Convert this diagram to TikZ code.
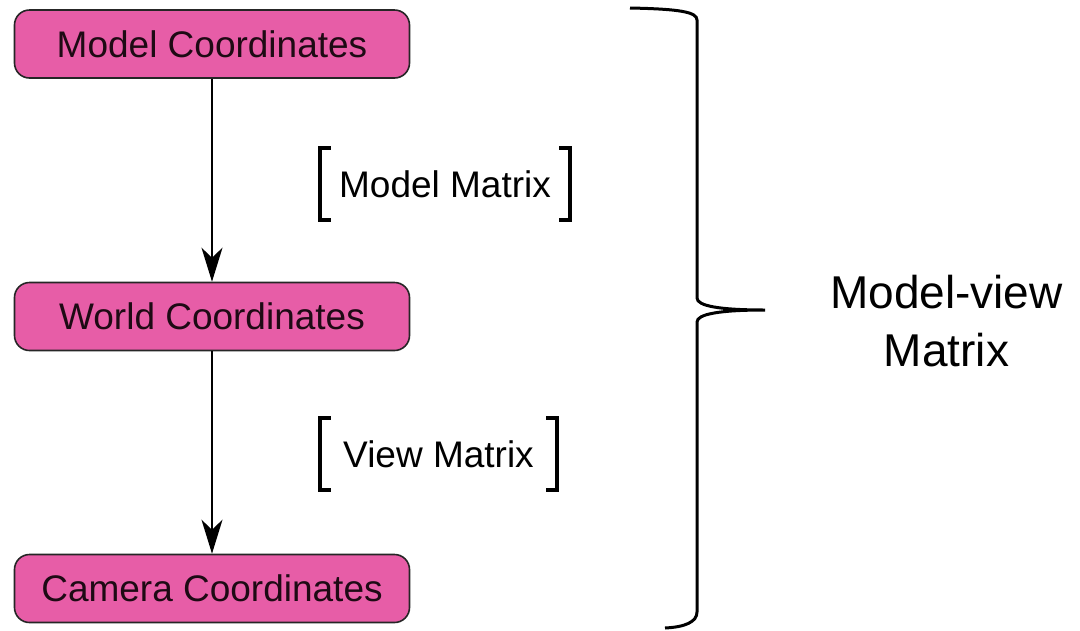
\documentclass[tikz,border=0pt]{standalone}
\usepackage{fontspec}
\setmainfont{Liberation Sans}
\usetikzlibrary{arrows.meta}
\definecolor{boxpink}{HTML}{E75DA7}
\definecolor{boxtext}{HTML}{1E0A14}
\tikzset{
  coordbox/.style={draw=black!85, line width=1.6pt, fill=boxpink, rounded corners=15pt,
    minimum width=395pt, minimum height=68pt, inner sep=0pt, text=boxtext,
    font=\fontsize{37}{44}\selectfont},
  flow/.style={line width=1.5pt, -{Stealth[length=34pt,width=21pt,inset=10pt]}},
  matlabel/.style={inner sep=0pt, minimum height=72pt, font=\fontsize{37}{44}\selectfont},
  bracketline/.style={line width=4pt},
  braceline/.style={line width=3pt},
  bigtext/.style={align=center, font=\fontsize{46}{58}\selectfont}
}
\begin{document}
\begin{tikzpicture}[x=1pt,y=-1pt]
\useasboundingbox (0,0) rectangle (1080,630);
\node[coordbox] (model) at (212,44) {Model Coordinates};
\node[coordbox] (world) at (212,316.5) {World Coordinates};
\node[coordbox] (camera) at (212,588.5) {Camera Coordinates};
\draw[flow] (model.south) -- (world.north);
\draw[flow] (world.south) -- (camera.north);

\node[matlabel, minimum width=250pt] (mm) at (445,184) {Model Matrix};
\draw[bracketline] ([xshift=11pt]mm.north west) -- (mm.north west) -- (mm.south west) -- ([xshift=11pt]mm.south west);
\draw[bracketline] ([xshift=-11pt]mm.north east) -- (mm.north east) -- (mm.south east) -- ([xshift=-11pt]mm.south east);

\node[matlabel, minimum width=237pt] (vm) at (438.5,454) {View Matrix};
\draw[bracketline] ([xshift=11pt]vm.north west) -- (vm.north west) -- (vm.south west) -- ([xshift=11pt]vm.south west);
\draw[bracketline] ([xshift=-11pt]vm.north east) -- (vm.north east) -- (vm.south east) -- ([xshift=-11pt]vm.south east);

\coordinate (btop) at (630,8);
\coordinate (btip) at (765,310);
\coordinate (bbot) at (665,628);
\draw[braceline] (btop) .. controls (680,9) and (697,12) .. (697,20) -- (697,298)
  .. controls (697,306) and (720,310) .. (btip)
  .. controls (720,310) and (697,314) .. (697,322) -- (697,612)
  .. controls (697,622) and (685,627) .. (bbot);
\node[bigtext] (mv) at (946.5,321) {Model-view\\Matrix};
\end{tikzpicture}
\end{document}
